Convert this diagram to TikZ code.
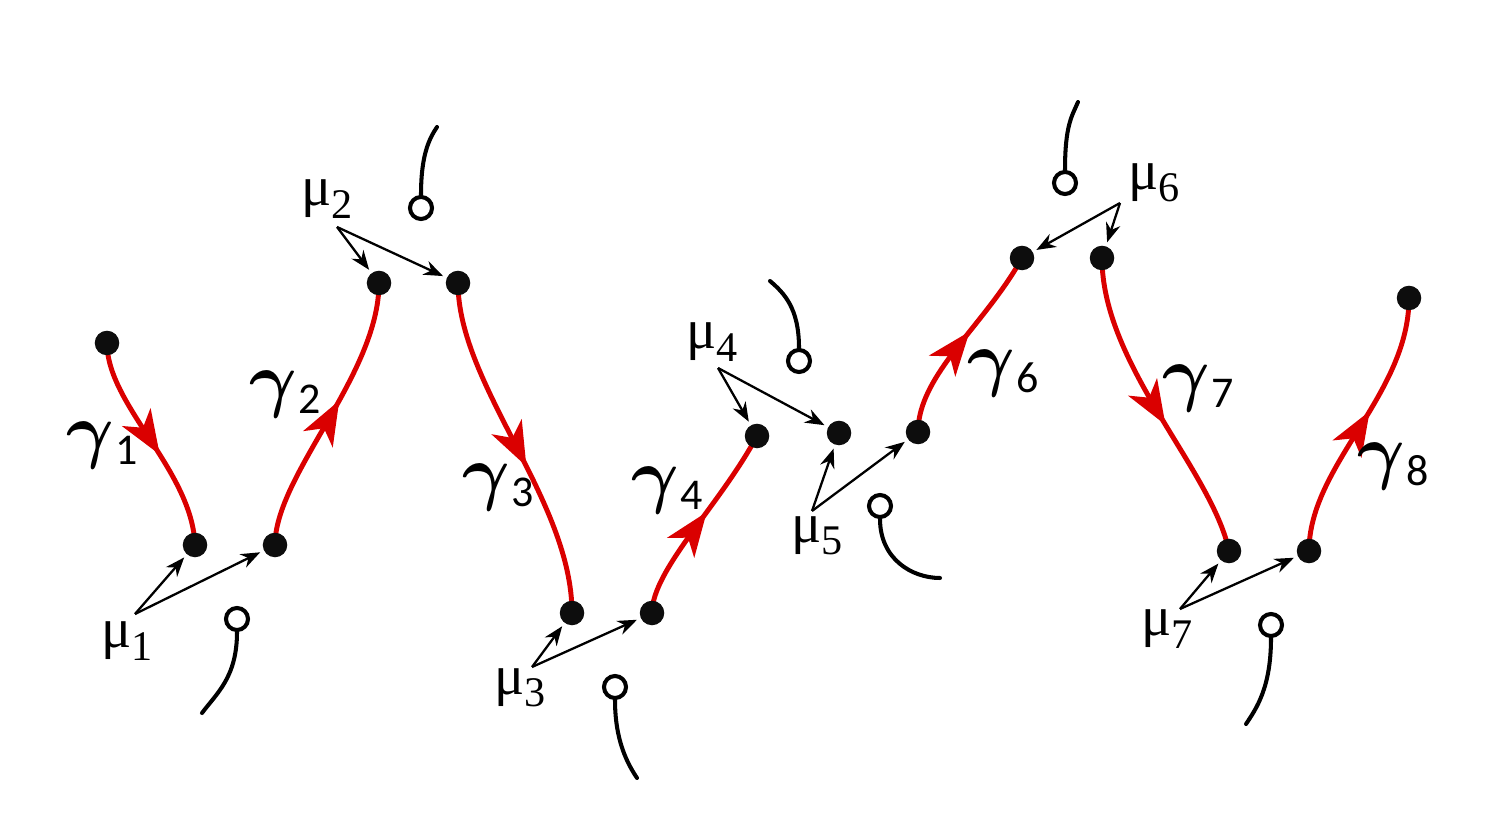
\documentclass[tikz,border=0pt]{standalone}
\usepackage{fontspec}
\usepackage{amsmath}
\setmainfont{Liberation Serif}
\newfontfamily\carl{Carlito}
\usetikzlibrary{decorations.markings,arrows.meta,backgrounds}
\definecolor{cred}{RGB}{218,0,0}
\newcommand{\glab}[1]{{\fontsize{20}{20}\selectfont$\boldsymbol{\gamma}$}\kern0.5pt\raisebox{-3pt}{\carl\fontsize{12.5}{12.5}\selectfont #1}}
\newcommand{\mlab}[1]{μ\raisebox{-3.5pt}{\fontsize{12}{12}\selectfont #1}}
\begin{document}
\begin{tikzpicture}[x=0.01cm,y=-0.01cm,
  dot/.style={circle,fill=black!95,inner sep=0pt,minimum size=0.245cm},
  ring/.style={circle,draw,line width=1.15pt,fill=white,inner sep=0pt,minimum size=0.22cm},
  gpath/.style={cred,line width=1.4pt,postaction={decorate},
    decoration={markings,mark=at position #1 with {\arrow{Stealth[length=12.5pt,width=9.5pt,inset=3.5pt]}}}},
  gpath/.default=0.56,
  tail/.style={line width=1.15pt,line cap=round},
  marrow/.style={-{Stealth[length=5.5pt,width=4.2pt]},line width=0.65pt,shorten >=1pt},
  lab/.style={inner sep=0pt,font=\fontsize{16}{16}\selectfont}]
\useasboundingbox (0,0) rectangle (1500,831);

% filled dots
\node[dot] (A1) at (107,343) {};
\node[dot] (B1) at (195,545) {};
\node[dot] (C1) at (275,545) {};
\node[dot] (B2) at (379,283) {};
\node[dot] (C2) at (458,283) {};
\node[dot] (B3) at (572,613) {};
\node[dot] (C3) at (652,613) {};
\node[dot] (B4) at (757,436) {};
\node[dot] (C4) at (839,433) {};
\node[dot] (D5) at (918,432) {};
\node[dot] (B6) at (1022,258) {};
\node[dot] (C6) at (1102,258) {};
\node[dot] (B7) at (1229,551) {};
\node[dot] (C7) at (1309,551) {};
\node[dot] (A8) at (1409,298) {};

% red paths
\begin{scope}[on background layer]
\draw[gpath] (A1.center) .. controls (107,405) and (192,470) .. (B1.center);
\draw[gpath] (C1.center) .. controls (275,475) and (379,375) .. (B2.center);
\draw[gpath] (C2.center) .. controls (458,385) and (572,500) .. (B3.center);
\draw[gpath] (C3.center) .. controls (652,570) and (720,505) .. (B4.center);
\draw[gpath] (D5.center) .. controls (918,375) and (985,325) .. (B6.center);
\draw[gpath] (C6.center) .. controls (1102,365) and (1212,470) .. (B7.center);
\draw[gpath] (C7.center) .. controls (1309,465) and (1409,395) .. (A8.center);
\end{scope}

% gamma labels
\node[lab] (g1) at (102,445) {\glab{1}};
\node[lab] (g2) at (285,394) {\glab{2}};
\node[lab] (g3) at (498,487) {\glab{3}};
\node[lab] (g4) at (667,490) {\glab{4}};
\node[lab] (g6) at (1003,373) {\glab{6}};
\node[lab] (g7) at (1198,388) {\glab{7}};
\node[lab] (g8) at (1393,466) {\glab{8}};

% mu labels
\node[lab] (m1) at (127,641) {\mlab{1}};
\node[lab] (m2) at (327,199) {\mlab{2}};
\node[lab] (m3) at (520,688) {\mlab{3}};
\node[lab] (m4) at (712,342) {\mlab{4}};
\node[lab] (m5) at (817,536) {\mlab{5}};
\node[lab] (m6) at (1154,183) {\mlab{6}};
\node[lab] (m7) at (1167,629) {\mlab{7}};

% arrow origins
\coordinate (o1) at (135,614);
\coordinate (o2) at (337,227);
\coordinate (o3) at (532,667);
\coordinate (o4) at (718,368);
\coordinate (o5) at (812,511);
\coordinate (o6) at (1120,203);
\coordinate (o7) at (1180,609);

\draw[marrow] (o1) -- (B1);
\draw[marrow] (o1) -- (C1);
\draw[marrow] (o2) -- (B2);
\draw[marrow] (o2) -- (C2);
\draw[marrow] (o3) -- (B3);
\draw[marrow] (o3) -- (C3);
\draw[marrow] (o4) -- (B4);
\draw[marrow] (o4) -- (C4);
\draw[marrow] (o5) -- (C4);
\draw[marrow] (o5) -- (D5);
\draw[marrow] (o6) -- (B6);
\draw[marrow] (o6) -- (C6);
\draw[marrow] (o7) -- (B7);
\draw[marrow] (o7) -- (C7);

% open rings with tails
\node[ring] (R1) at (237,619) {};
\node[ring] (R2) at (421,208) {};
\node[ring] (R3) at (615,687) {};
\node[ring] (R4) at (799,361) {};
\node[ring] (R5) at (880,506) {};
\node[ring] (R6) at (1065,183) {};
\node[ring] (R7) at (1271,625) {};

\coordinate (t1) at (202,713);
\coordinate (t2) at (437,127);
\coordinate (t3) at (637,778);
\coordinate (t4) at (770,281);
\coordinate (t5) at (940,578);
\coordinate (t6) at (1078,102);
\coordinate (t7) at (1246,724);

\draw[tail] (R1.south) .. controls +(0,45) and +(15,-20) .. (t1);
\draw[tail] (R2.north) .. controls +(0,-40) and +(-8,12) .. (t2);
\draw[tail] (R3.south) .. controls +(0,40) and +(-10,-15) .. (t3);
\draw[tail] (R4.north) .. controls +(0,-40) and +(14,12) .. (t4);
\draw[tail] (R5.south) .. controls +(0,40) and +(-28,0) .. (t5);
\draw[tail] (R6.north) .. controls +(0,-45) and +(-6,14) .. (t6);
\draw[tail] (R7.south) .. controls +(0,50) and +(10,-15) .. (t7);
\end{tikzpicture}
\end{document}
